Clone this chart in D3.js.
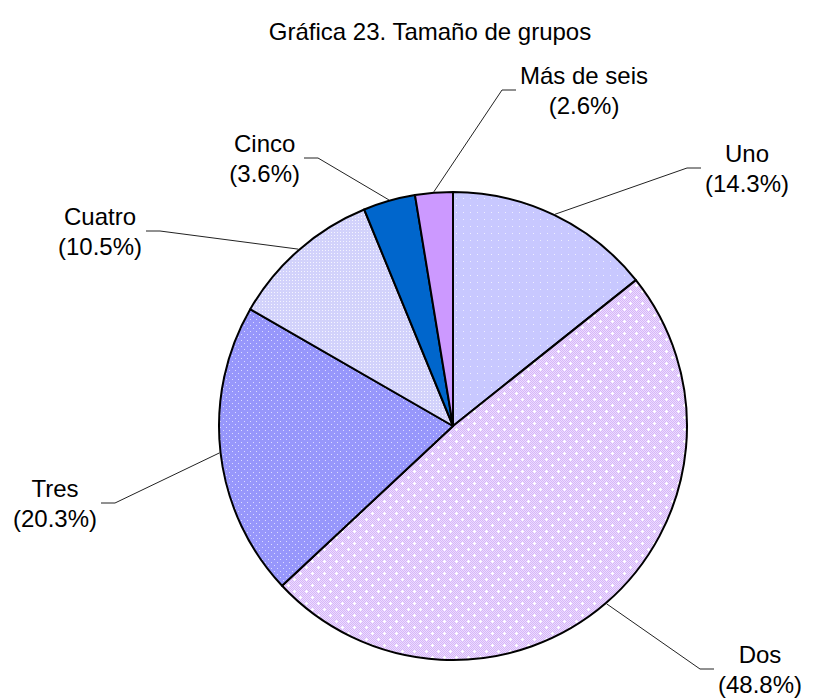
<!DOCTYPE html>
<html>
<head>
<meta charset="utf-8">
<script src="https://cdn.jsdelivr.net/npm/d3@7"></script>
<style>
  html, body { margin: 0; padding: 0; background: #fff; }
  svg { display: block; }
</style>
</head>
<body>
<script>
// data
const categories = ["Uno", "Dos", "Tres", "Cuatro", "Cinco", "Más de seis"];
const values = [14.3, 48.8, 20.3, 10.5, 3.6, 2.6];
const title = "Gráfica 23. Tamaño de grupos";

const width = 816, height = 699;
const cx = 453, cy = 426, radius = 234;
const font = "'Liberation Sans', Arial, sans-serif";

// where each leader line bends (offset from pie centre)
const elbows = [[234, -258], [247, 243], [-338, 77], [-293, -195], [-135, -268], [49, -336]];

const svg = d3.select("body").append("svg")
    .attr("width", width)
    .attr("height", height)
    .style("font-family", font);

// fill patterns, roughly like the old office hatches
const defs = svg.append("defs");

function dotPattern(id, size, base, dots, dotColor, r) {
    const p = defs.append("pattern")
        .attr("id", id)
        .attr("patternUnits", "userSpaceOnUse")
        .attr("width", size).attr("height", size);
    p.append("rect").attr("width", size).attr("height", size).attr("fill", base);
    dots.forEach(([x, y]) => {
        p.append("rect").attr("x", x).attr("y", y).attr("width", r).attr("height", r).attr("fill", dotColor);
    });
}

dotPattern("pUno", 7, "#c8c8ff", [[3, 3]], "#eeeeff", 1);
dotPattern("pTres", 6, "#9797fb", [[1, 1], [4, 4]], "#dcdcff", 1);
dotPattern("pCuatro", 3, "#d2d2fb", [[1, 1]], "#f4f4ff", 1);

// checker + plus signs for "Dos"
(function () {
    const s = 12;
    const p = defs.append("pattern")
        .attr("id", "pDos")
        .attr("patternUnits", "userSpaceOnUse")
        .attr("width", s).attr("height", s);
    p.append("rect").attr("width", s).attr("height", s).attr("fill", "#d6b6f8");
    for (let y = 0; y < s; y++) {
        for (let x = (y % 2); x < s; x += 2) {
            p.append("rect").attr("x", x).attr("y", y).attr("width", 1).attr("height", 1).attr("fill", "#ecdcff");
        }
    }
    [[3, 3], [9, 9]].forEach(([x, y]) => {
        p.append("rect").attr("x", x - 1).attr("y", y).attr("width", 3).attr("height", 1).attr("fill", "#ffffff");
        p.append("rect").attr("x", x).attr("y", y - 1).attr("width", 1).attr("height", 3).attr("fill", "#ffffff");
    });
})();

const fills = ["url(#pUno)", "url(#pDos)", "url(#pTres)", "url(#pCuatro)", "#0066cc", "#cc99ff"];
const color = d3.scaleOrdinal().domain(categories).range(fills);

// title
svg.append("text")
    .attr("x", 430)
    .attr("y", 40)
    .attr("text-anchor", "middle")
    .style("font-size", "24px")
    .attr("fill", "#000")
    .text(title);

const pie = d3.pie().sort(null).value(d => d.value);
const arcs = pie(categories.map((c, i) => ({ name: c, value: values[i] })));
const arc = d3.arc().innerRadius(0).outerRadius(radius);

const g = svg.append("g").attr("transform", `translate(${cx},${cy})`);

g.selectAll("path.slice")
    .data(arcs)
    .join("path")
    .attr("class", "slice")
    .attr("d", arc)
    .attr("fill", d => color(d.data.name))
    .attr("stroke", "#000")
    .attr("stroke-width", 2)
    .attr("stroke-linejoin", "round");

// leader lines and labels
const labels = g.append("g");

arcs.forEach((d, i) => {
    const mid = (d.startAngle + d.endAngle) / 2;
    const start = [Math.sin(mid) * (radius + 1), -Math.cos(mid) * (radius + 1)];
    const [ex, ey] = elbows[i];
    const side = ex >= 0 ? 1 : -1;
    const end = [ex + side * 14, ey];

    labels.append("polyline")
        .attr("points", [start, [ex, ey], end].map(p => p.join(",")).join(" "))
        .attr("fill", "none")
        .attr("stroke", "#222")
        .attr("stroke-width", 1);

    const t = labels.append("text")
        .style("font-size", "24px")
        .attr("fill", "#000")
        .attr("text-anchor", "middle");
    const l1 = t.append("tspan").attr("y", ey - 6).text(d.data.name);
    const l2 = t.append("tspan").attr("y", ey + 24).text(`(${d.data.value.toFixed(1)}%)`);
    const w = Math.max(l1.node().getComputedTextLength(), l2.node().getComputedTextLength());
    const tx = ex + side * (18 + w / 2);
    l1.attr("x", tx);
    l2.attr("x", tx);
});
</script>
</body>
</html>
